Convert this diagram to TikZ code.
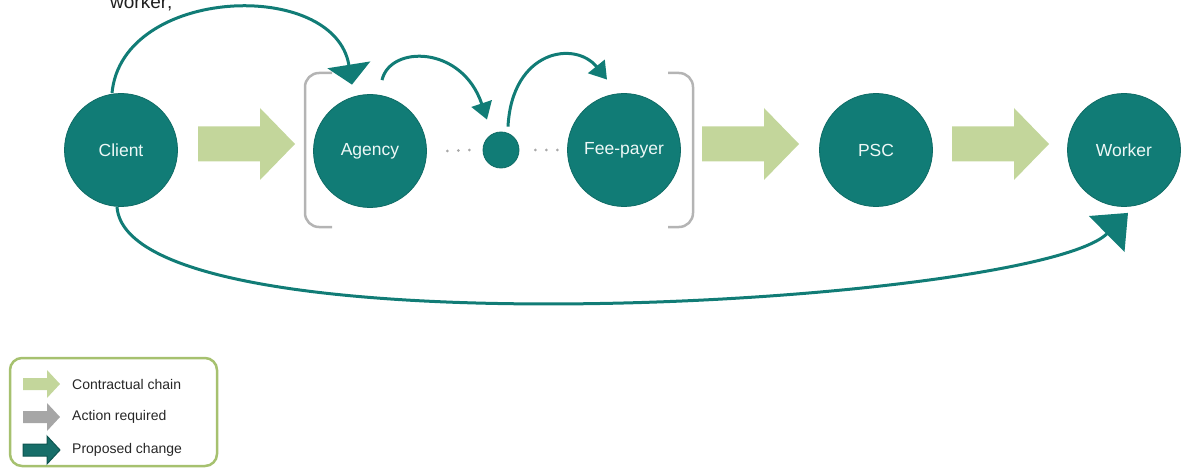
\documentclass[tikz,border=0pt]{standalone}
\usepackage{fontspec}
\setmainfont{Liberation Sans}
\usetikzlibrary{arrows.meta,calc}
\definecolor{teal1}{HTML}{117C76}
\definecolor{tealdark}{HTML}{0E6B65}
\definecolor{txtc}{HTML}{EEF8F7}
\definecolor{lgreen}{HTML}{C3D69B}
\definecolor{agray}{HTML}{A6A6A6}
\definecolor{bgray}{HTML}{B4B4B4}
\definecolor{legborder}{HTML}{A6C16F}
\definecolor{propfill}{HTML}{176E69}
\definecolor{propdraw}{HTML}{0D5550}
\definecolor{dotgray}{HTML}{A8A8A8}
\begin{document}
\begin{tikzpicture}[x=1pt,y=-1pt,
  ent/.style={circle, fill=teal1, draw=tealdark, line width=0.8pt, minimum size=113pt, inner sep=0pt, text=txtc, font=\fontsize{17.5}{20}\selectfont},
  smalldot/.style={circle, fill=teal1, draw=tealdark, line width=0.8pt, minimum size=36pt, inner sep=0pt},
  conn/.style={draw=teal1, line width=3pt},
  bracket/.style={draw=bgray, line width=2.5pt, rounded corners=14pt},
  dotconn/.style={draw=dotgray, line width=3pt, line cap=round, dash pattern=on 0pt off 11pt},
  legtext/.style={anchor=west, inner sep=0pt, font=\fontsize{14}{16}\selectfont, text=black!85},
  barrow/.pic={\path[pic actions] (0,-17.5) -- (62,-17.5) -- (62,-36) -- (97,0) -- (62,36) -- (62,17.5) -- (0,17.5) -- cycle;},
  legarrow/.pic={\path[pic actions] (0,-6) -- (24,-6) -- (24,-14) -- (37,0) -- (24,14) -- (24,6) -- (0,6) -- cycle;}
]
\useasboundingbox (0,0) rectangle (1181,468);

% cut-off text at top
\node[anchor=base west, inner sep=0pt, font=\fontsize{19}{22}\selectfont, text=black!88] (wtxt) at (110,9) {worker;};

% brackets
\draw[bracket] (332,73) -- (305,73) -- (305,227) -- (332,227);
\draw[bracket] (668,73) -- (693,73) -- (693,227) -- (668,227);

% entities
\node[ent] (client) at (121,150) {Client};
\node[ent] (agency) at (370,151) {Agency};
\node[smalldot] (dot) at (501,150) {};
\node[ent] (fee) at (624,150) {Fee-payer};
\node[ent] (psc) at (876,150) {PSC};
\node[ent] (worker) at (1124,150) {Worker};

% contractual chain arrows
\pic[fill=lgreen] at (198,144) {barrow};
\pic[fill=lgreen] at (702,144) {barrow};
\pic[fill=lgreen] at (952,144) {barrow};

% dotted links
\draw[dotconn] ($(agency.east)+(20.5,0)$) -- ($(dot.west)+(-13,0)$);
\draw[dotconn] ($(dot.east)+(16,0)$) -- ($(fee.west)+(-9.5,0)$);

% proposed change connectors
\draw[conn, -{Triangle[width=43pt,length=20pt]}]
  ($(client.north)+(-9,0)$) .. controls (122,-14) and (335,-22) .. ($(agency.north)+(-18,-9.5)$);
\draw[conn, -{Triangle[width=21pt,length=17pt]}]
  ($(agency.north)+(12,-14)$) .. controls (390,45) and (462,45) .. ($(dot.north)+(-14,-12)$);
\draw[conn, -{Triangle[width=21pt,length=17pt]}]
  ($(dot.north)+(7,-5)$) .. controls (512,50) and (575,40) .. ($(fee.north)+(-17,-13.5)$);
\draw[conn, -{Triangle[width=50pt,length=30pt]}]
  ($(client.south)+(-4,0)$) .. controls (128,358) and (1035,305) .. ($(worker.south)+(4,6)$);

% legend
\draw[legborder, line width=2.5pt, rounded corners=12pt] (10,358) rectangle (217,466);
\pic[fill=lgreen] at (23,384) {legarrow};
\pic[fill=agray] at (23,417) {legarrow};
\pic[fill=propfill, draw=propdraw, line width=1pt] at (23,450) {legarrow};
\node[legtext] (l1) at (72,384) {Contractual chain};
\node[legtext] (l2) at (72,417) {Action required};
\node[legtext] (l3) at (72,450) {Proposed change};
\end{tikzpicture}
\end{document}
